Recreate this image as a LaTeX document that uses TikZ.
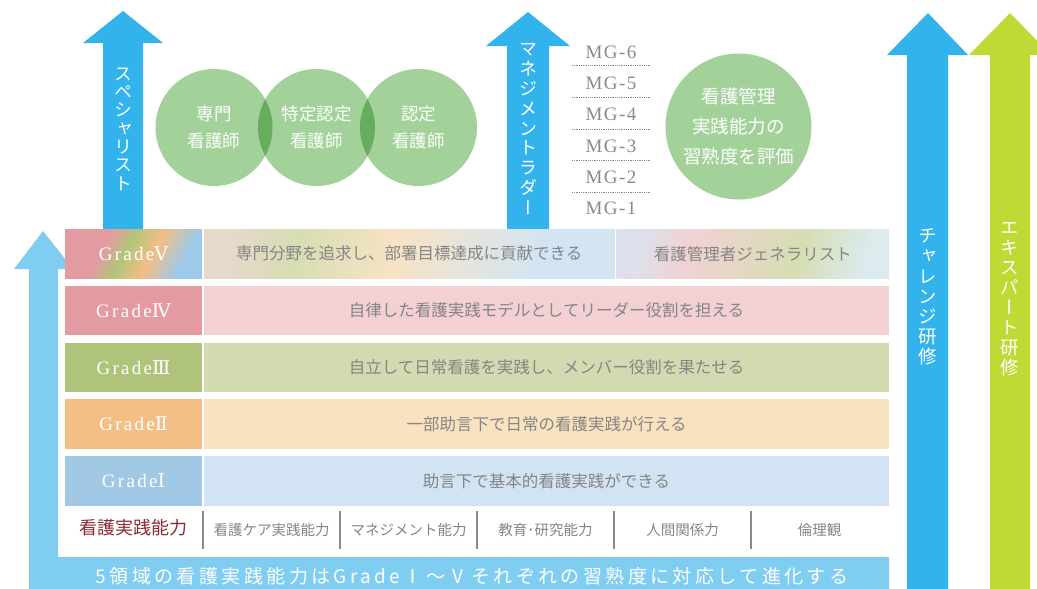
\documentclass[tikz,border=0pt]{standalone}
\usepackage{fontspec}
\setmainfont{Liberation Serif}
\newfontfamily\cjk{Noto Sans CJK JP}
\newfontfamily\cjkv{Noto Sans CJK JP}[RawFeature=+vert]
\newfontfamily\numfont{DejaVu Serif}
\newfontfamily\gradefont{Liberation Serif}[LetterSpace=12]
\newfontfamily\mgfont{Liberation Serif}[LetterSpace=8]
\newfontfamily\widecjk{Noto Sans CJK JP}[LetterSpace=18]
\usepackage{tikz}
\usetikzlibrary{positioning}
\usepackage{color}

\definecolor{lightarrow}{HTML}{80CDF2}
\definecolor{skyarrow}{HTML}{33B3EC}
\definecolor{expertgreen}{HTML}{BFD935}
\definecolor{leafgreen}{HTML}{A2D29A}
\definecolor{lensgreen}{HTML}{68AC5E}
\definecolor{txtgray}{HTML}{858585}
\definecolor{mggray}{HTML}{8A8A8A}
\definecolor{wine}{HTML}{8C2A36}
\definecolor{fivepink}{HTML}{E39BA1}
\definecolor{fivegreen}{HTML}{B3C47C}
\definecolor{fiveorange}{HTML}{F2BE86}
\definecolor{fiveblue}{HTML}{9FC9E8}
\definecolor{palebeige}{HTML}{E7D8CC}
\definecolor{palegreen}{HTML}{D6DDB3}
\definecolor{palepeach}{HTML}{F8E3C5}
\definecolor{paleblue}{HTML}{D3E5F3}
\definecolor{palelilac}{HTML}{DDE0EC}
\definecolor{palepink}{HTML}{F1D2D3}
\definecolor{paleaqua}{HTML}{DCEBEE}
\definecolor{fourlabel}{HTML}{E39BA1}
\definecolor{fourtext}{HTML}{F2D0D3}
\definecolor{threelabel}{HTML}{B0C37B}
\definecolor{threetext}{HTML}{D1DAB0}
\definecolor{twolabel}{HTML}{F3BF86}
\definecolor{twotext}{HTML}{F8E2BF}
\definecolor{onelabel}{HTML}{A0C7E3}
\definecolor{onetext}{HTML}{D2E4F3}

\pgfdeclarehorizontalshading{fivelabel}{100bp}{color(0bp)=(fivepink); color(25bp)=(fivepink); color(36bp)=(fivepink); color(46bp)=(fivegreen); color(58bp)=(fiveorange); color(72bp)=(fiveblue); color(100bp)=(fiveblue)}
\pgfdeclarehorizontalshading{fivetexta}{100bp}{color(0bp)=(palebeige); color(25bp)=(palebeige); color(34bp)=(palegreen); color(48bp)=(palepeach); color(68bp)=(paleblue); color(100bp)=(paleblue)}
\pgfdeclarehorizontalshading{fivetextb}{100bp}{color(0bp)=(palelilac); color(25bp)=(palelilac); color(36bp)=(palepink); color(60bp)=(palegreen); color(75bp)=(paleaqua); color(100bp)=(paleaqua)}

\tikzset{
  vtext/.style={inner sep=0pt, text=white, align=center, font=\fontsize{18}{20}\selectfont\cjkv},
  ring/.style={circle, fill=leafgreen, minimum size=117pt, inner sep=0pt, text=white, align=center, font=\fontsize{17.5}{27}\selectfont\cjk},
  mglabel/.style={inner sep=0pt, text=mggray, font=\fontsize{19}{19}\selectfont\mgfont},
  mgrule/.style={mggray, line width=0.7pt, dash pattern=on 0.7pt off 1.1pt},
  cell/.style={rectangle, inner sep=0pt, outer sep=0pt, minimum height=49.5pt},
  gradelabel/.style={cell, minimum width=137pt, text=white, font=\fontsize{19}{19}\selectfont\gradefont},
  gradetext/.style={cell, minimum width=685pt, text=txtgray, font=\fontsize{16.5}{16.5}\selectfont\cjk},
  skill/.style={rectangle, inner sep=0pt, outer sep=0pt, minimum width=137pt, minimum height=38pt, text=txtgray, font=\fontsize{14.5}{14.5}\selectfont\cjk},
  divider/.style={draw=mggray, line width=1.3pt}
}

\begin{document}
\begin{tikzpicture}[x=1pt, y=-1pt]
    \useasboundingbox (0,0) rectangle (1037,589);

    % arrows
    \fill[lightarrow] (29,589) -- (29,269) -- (14,269) -- (43,231) -- (73,269) -- (58,269) -- (58,557) -- (889,557) -- (889,589) -- cycle;
    \fill[skyarrow] (103,230) -- (103,43) -- (83,43) -- (123,11) -- (163,43) -- (143,43) -- (143,230) -- cycle;
    \fill[skyarrow] (507,230) -- (507,46) -- (486,46) -- (528,12) -- (570,46) -- (549,46) -- (549,230) -- cycle;
    \fill[skyarrow] (907,589) -- (907,55) -- (887,55) -- (928,13) -- (968,55) -- (948,55) -- (948,589) -- cycle;
    \fill[expertgreen] (990,589) -- (990,55) -- (969,55) -- (1010,13) -- (1051,55) -- (1030,55) -- (1030,589) -- cycle;

    % arrow texts
    \node[vtext, font=\fontsize{18}{18.3}\selectfont\cjkv] (special) at (123,129) {ス\\ペ\\シ\\ャ\\リ\\ス\\ト};
    \node[vtext, font=\fontsize{18}{19.8}\selectfont\cjkv] (ladder) at (528,129) {マ\\ネ\\ジ\\メ\\ン\\ト\\ラ\\ダ\\ー};
    \node[vtext, font=\fontsize{18.5}{20.2}\selectfont\cjkv] (challenge) at (928,297) {チ\\ャ\\レ\\ン\\ジ\\研\\修};
    \node[vtext, font=\fontsize{18.5}{20}\selectfont\cjkv] (expert) at (1010,299) {エ\\キ\\ス\\パ\\ー\\ト\\研\\修};

    % circles
    \node[ring] (sp1) at (214,127.5) {専門\\看護師};
    \node[ring] (sp2) at (316.5,127.5) {特定認定\\看護師};
    \node[ring] (sp3) at (418.5,127.5) {認定\\看護師};
    \begin{scope}
        \clip (sp1.center) circle (58.5pt);
        \fill[lensgreen] (sp2.center) circle (58.5pt);
    \end{scope}
    \begin{scope}
        \clip (sp2.center) circle (58.5pt);
        \fill[lensgreen] (sp3.center) circle (58.5pt);
    \end{scope}
    \node[ring, minimum size=146pt, font=\fontsize{18.5}{30}\selectfont\cjk] (mgeval) at (738.5,126.5) {看護管理\\実践能力の\\習熟度を評価};

    % ladder steps
    \node[mglabel] (mg6) at (611,52) {MG-6};
    \node[mglabel] (mg5) at (611,83) {MG-5};
    \node[mglabel] (mg4) at (611,114.5) {MG-4};
    \node[mglabel] (mg3) at (611,146) {MG-3};
    \node[mglabel] (mg2) at (611,177) {MG-2};
    \node[mglabel] (mg1) at (611,208) {MG-1};
    \draw[mgrule] (572,65) -- (651,65);
    \draw[mgrule] (572,97) -- (651,97);
    \draw[mgrule] (572,129) -- (651,129);
    \draw[mgrule] (572,160) -- (651,160);
    \draw[mgrule] (572,192) -- (651,192);

    % grades
    \node[gradelabel, shade, shading=fivelabel, shading angle=-28] (g5) at (133.5,253.75) {Grade{\numfont Ⅴ}};
    \node[gradelabel, fill=fourlabel, below=7.25pt of g5] (g4) {Grade{\numfont Ⅳ}};
    \node[gradelabel, fill=threelabel, below=7.25pt of g4] (g3) {Grade{\numfont Ⅲ}};
    \node[gradelabel, fill=twolabel, below=7.25pt of g3] (g2) {Grade{\numfont Ⅱ}};
    \node[gradelabel, fill=onelabel, below=7.25pt of g2] (g1) {Grade{\numfont Ⅰ}};

    \node[gradetext, minimum width=410.5pt, shade, shading=fivetexta, shading angle=-10, right=2pt of g5] (d5a) {専門分野を追求し、部署目標達成に貢献できる};
    \node[gradetext, minimum width=272.5pt, shade, shading=fivetextb, shading angle=-15, right=2pt of d5a] (d5b) {看護管理者ジェネラリスト};
    \node[gradetext, fill=fourtext, right=2pt of g4] (d4) {自律した看護実践モデルとしてリーダー役割を担える};
    \node[gradetext, fill=threetext, right=2pt of g3] (d3) {自立して日常看護を実践し、メンバー役割を果たせる};
    \node[gradetext, fill=twotext, right=2pt of g2] (d2) {一部助言下で日常の看護実践が行える};
    \node[gradetext, fill=onetext, right=2pt of g1] (d1) {助言下で基本的看護実践ができる};

    % competences
    \node[text=wine, font=\fontsize{18}{18}\selectfont\cjk] (skills) at (133,528) {看護実践能力};
    \node[skill] (s1) at (271.5,530) {看護ケア実践能力};
    \node[skill, right=0pt of s1] (s2) {マネジメント能力};
    \node[skill, right=0pt of s2] (s3) {教育･研究能力};
    \node[skill, right=0pt of s3] (s4) {人間関係力};
    \node[skill, right=0pt of s4] (s5) {倫理観};
    \draw[divider] (s1.north west) -- (s1.south west);
    \draw[divider] (s2.north west) -- (s2.south west);
    \draw[divider] (s3.north west) -- (s3.south west);
    \draw[divider] (s4.north west) -- (s4.south west);
    \draw[divider] (s5.north west) -- (s5.south west);

    \node[text=white, font=\fontsize{19}{19}\selectfont\widecjk] (evolve) at (472,576) {5領域の看護実践能力はGradeⅠ～Ⅴそれぞれの習熟度に対応して進化する};
\end{tikzpicture}
\end{document}
